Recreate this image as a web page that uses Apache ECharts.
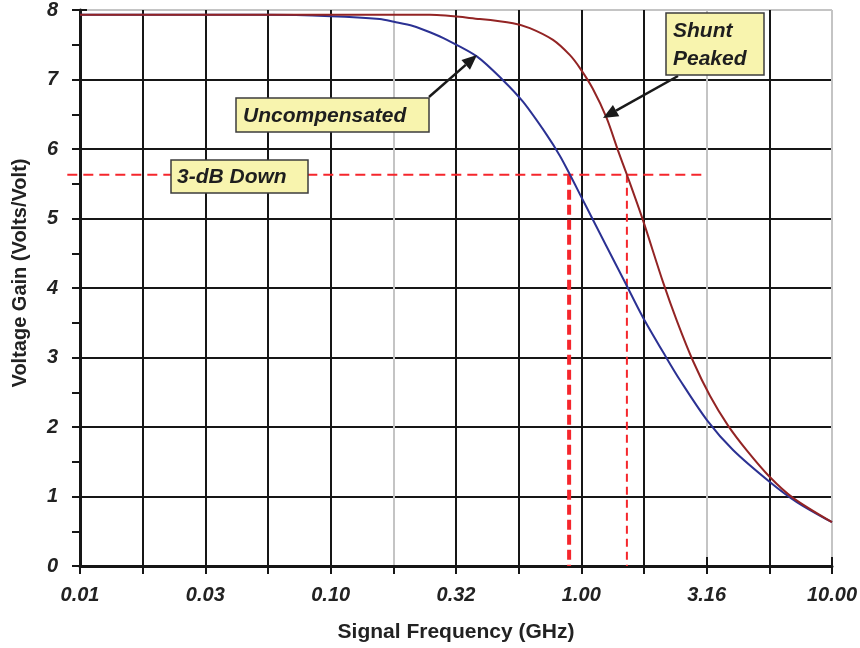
<!DOCTYPE html>
<html>
<head>
<meta charset="utf-8">
<script src="https://cdn.jsdelivr.net/npm/echarts@6/dist/echarts.min.js"></script>
<style>html,body{margin:0;padding:0;background:#fff;}#c{width:860px;height:648px;}</style>
</head>
<body>
<div id="c"></div>
<script>
// ---- Data ----
// Frequencies in GHz, gains in Volts/Volt
const uncompFreq = [0.01, 0.0557, 0.10, 0.157, 0.179, 0.213, 0.249, 0.291, 0.384, 0.487, 0.585, 0.729, 0.822, 0.901, 0.99, 1.11, 1.26, 1.49, 1.76, 2.19, 2.47, 3.17, 4.03, 5.65, 7.24, 10.0];
const uncompGain = [7.93, 7.93, 7.91, 7.87, 7.83, 7.77, 7.68, 7.57, 7.33, 6.99, 6.68, 6.20, 5.90, 5.63, 5.34, 4.99, 4.60, 4.09, 3.58, 2.99, 2.68, 2.10, 1.67, 1.21, 0.92, 0.63];
const shuntFreq = [0.01, 0.10, 0.249, 0.394, 0.534, 0.623, 0.771, 0.901, 0.989, 1.11, 1.26, 1.40, 1.52, 1.76, 2.12, 2.41, 2.79, 3.26, 3.85, 4.58, 5.65, 6.99, 10.0];
const shuntGain = [7.93, 7.93, 7.93, 7.87, 7.81, 7.74, 7.57, 7.35, 7.16, 6.87, 6.45, 5.98, 5.63, 4.98, 4.08, 3.52, 2.95, 2.45, 2.02, 1.66, 1.28, 0.98, 0.63];
const down3dBGain = 5.63;
const down3dBFreqStart = 0.0089, down3dBFreqEnd = 3.16;
const uncompCutoff = 0.894;   // GHz
const shuntCutoff = 1.52;     // GHz
const xTickLabels = ['0.01', '0.03', '0.10', '0.32', '1.00', '3.16', '10.00'];
const yTickLabels = ['0', '1', '2', '3', '4', '5', '6', '7', '8'];

const toPts = (fs, gs) => fs.map((f, i) => [Math.log10(f), gs[i]]);

const chart = echarts.init(document.getElementById('c'), null, {renderer: 'canvas'});
const FONT = '"Liberation Sans", Arial, sans-serif';
const black = '#161616', gray = '#c4c4c4';
const xSplitColors = [];
for (let i = 0; i <= 12; i++) xSplitColors.push((i === 5 || i === 10 || i === 12) ? gray : black);
const ySplitColors = [];
for (let i = 0; i <= 8; i++) ySplitColors.push(i === 8 ? gray : black);

const gridRect = {left: 80, right: 28, top: 10, bottom: 82};

function arrow(x1, y1, x2, y2) {
  const ang = Math.atan2(y2 - y1, x2 - x1);
  const L = 15, W = 6.5;
  const bx = x2 - L * Math.cos(ang), by = y2 - L * Math.sin(ang);
  const px = -Math.sin(ang), py = Math.cos(ang);
  return [
    {type: 'line', shape: {x1: x1, y1: y1, x2: bx, y2: by}, style: {stroke: '#1a1a1a', lineWidth: 2.5}, z: 100},
    {type: 'polygon', shape: {points: [[x2, y2], [bx + px * W, by + py * W], [bx - px * W, by - py * W]]}, style: {fill: '#1a1a1a'}, z: 100}
  ];
}
function box(x, y, w, h, lines, tx, ty0, dy) {
  const els = [{type: 'rect', shape: {x: x, y: y, width: w, height: h}, style: {fill: '#f8f4ae', stroke: '#3c3c3c', lineWidth: 1.5}, z: 101}];
  lines.forEach((t, i) => els.push({type: 'text', x: tx, y: ty0 + i * dy, style: {text: t, font: 'italic bold 21px ' + FONT, fill: '#1e1e1e', textVerticalAlign: 'middle', textAlign: 'left'}, z: 102}));
  return els;
}

const labelStyle = {fontFamily: FONT, fontWeight: 'bold', fontStyle: 'italic', fontSize: 20, color: '#222'};

chart.setOption({
  animation: false,
  backgroundColor: '#fff',
  grid: [Object.assign({}, gridRect), Object.assign({}, gridRect)],
  xAxis: [{
    type: 'value', gridIndex: 0, min: -2, max: 1, interval: 0.25,
    name: 'Signal Frequency (GHz)', nameLocation: 'middle', nameGap: 56,
    nameTextStyle: {fontFamily: FONT, fontWeight: 'bold', fontSize: 21, color: '#222'},
    axisLine: {show: true, onZero: false, lineStyle: {color: black, width: 3}},
    axisTick: {show: true, inside: false, length: 8, lineStyle: {color: black, width: 2}},
    axisLabel: Object.assign({margin: 19, formatter: function (v) {
      const k = Math.round((v + 2) * 2);
      if (Math.abs((v + 2) * 2 - k) > 1e-6) return '';
      return xTickLabels[k] || '';
    }}, labelStyle),
    splitLine: {show: true, lineStyle: {color: xSplitColors, width: 2}}
  }, {
    type: 'value', gridIndex: 1, min: -2, max: 1, interval: 0.5,
    axisLine: {show: false, onZero: false}, axisLabel: {show: false}, splitLine: {show: false},
    axisTick: {show: true, inside: true, length: 9, lineStyle: {color: black, width: 2}}
  }],
  yAxis: [{
    type: 'value', gridIndex: 0, min: 0, max: 8, interval: 1,
    name: 'Voltage Gain (Volts/Volt)', nameLocation: 'middle', nameGap: 50,
    nameTextStyle: {fontFamily: FONT, fontWeight: 'bold', fontSize: 20, color: '#222', padding: [0, 0, 0, 30]},
    axisLine: {show: true, onZero: false, lineStyle: {color: black, width: 3}},
    axisTick: {show: true, inside: false, length: 8, lineStyle: {color: black, width: 2}},
    minorTick: {show: true, splitNumber: 2, length: 8, lineStyle: {color: black, width: 2}},
    axisLabel: Object.assign({margin: 22, formatter: function (v) { return yTickLabels[Math.round(v)]; }}, labelStyle),
    splitLine: {show: true, lineStyle: {color: ySplitColors, width: 2}}
  }, {
    type: 'value', gridIndex: 1, min: 0, max: 8, interval: 1,
    axisLine: {show: false, onZero: false}, axisLabel: {show: false}, splitLine: {show: false},
    axisTick: {show: true, inside: true, length: 7, lineStyle: {color: black, width: 2}}
  }],
  series: [
    {type: 'line', name: 'cutU', xAxisIndex: 0, yAxisIndex: 0, clip: false, symbol: 'none', z: 3,
     data: [[Math.log10(uncompCutoff), down3dBGain], [Math.log10(uncompCutoff), 0]],
     lineStyle: {color: '#f5262c', width: 4, type: [10, 5]}},
    {type: 'line', name: 'cutS', xAxisIndex: 0, yAxisIndex: 0, clip: false, symbol: 'none', z: 3,
     data: [[Math.log10(shuntCutoff), down3dBGain], [Math.log10(shuntCutoff), 0]],
     lineStyle: {color: '#f5262c', width: 2, type: [8, 5]}},
    {type: 'line', name: 'Uncompensated', xAxisIndex: 0, yAxisIndex: 0, symbol: 'none', smooth: 0.3, z: 4,
     data: toPts(uncompFreq, uncompGain), lineStyle: {color: '#2b3193', width: 2}},
    {type: 'line', name: 'Shunt Peaked', xAxisIndex: 0, yAxisIndex: 0, symbol: 'none', smooth: 0.3, z: 4,
     data: toPts(shuntFreq, shuntGain), lineStyle: {color: '#932424', width: 2}}
  ]
});

// 3-dB reference line (extends slightly left of the value axis) and annotations,
// positioned through the chart's own coordinate conversion.
const p0 = chart.convertToPixel({gridIndex: 0}, [Math.log10(down3dBFreqStart), down3dBGain]);
const p1 = chart.convertToPixel({gridIndex: 0}, [Math.log10(down3dBFreqEnd), down3dBGain]);
const graphics = [].concat(
  [{type: 'line', shape: {x1: p0[0], y1: p0[1], x2: p1[0], y2: p1[1]},
    style: {stroke: '#f5262c', lineWidth: 2, lineDash: [10, 6]}, z: 3, silent: true}],
  arrow(429, 97, 477, 55),
  arrow(678, 76, 603, 118),
  box(236, 98, 193, 34, ['Uncompensated'], 243, 116, 0),
  box(171, 160, 137, 33, ['3-dB Down'], 177, 177, 0),
  box(666, 13, 98, 62, ['Shunt', 'Peaked'], 673, 31, 28)
);
chart.setOption({graphic: graphics});
</script>
</body>
</html>
